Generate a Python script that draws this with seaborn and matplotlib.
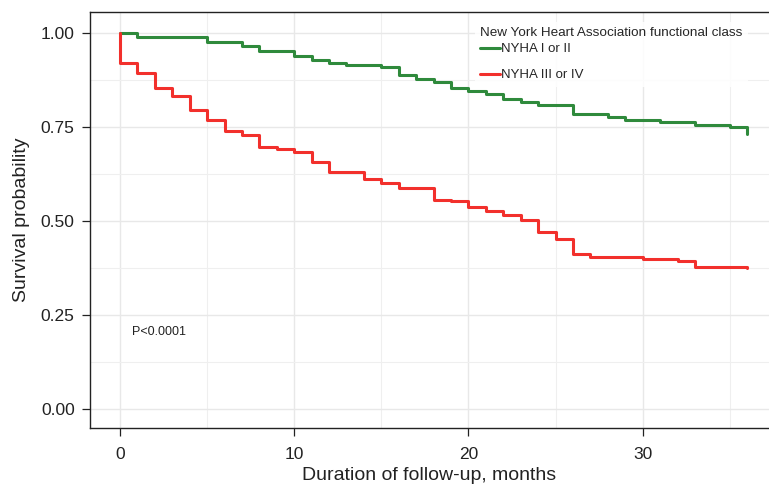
"""Kaplan-Meier curves by NYHA functional class."""

import matplotlib.pyplot as plt
import numpy as np
import pandas as pd
import seaborn as sns

# step times (months) and survival estimates
green_times = [0, 1, 5, 7, 8, 10, 11, 12, 13, 15, 16, 17, 18, 19, 20, 21, 22, 23, 24,
               26, 28, 29, 31, 33, 35, 36]
green_surv = [1.0, 0.989, 0.977, 0.965, 0.952, 0.940, 0.927, 0.921, 0.915, 0.909, 0.888,
              0.877, 0.870, 0.855, 0.846, 0.837, 0.824, 0.816, 0.809, 0.784, 0.776, 0.769,
              0.762, 0.756, 0.750, 0.731]
red_times = [0, 0, 1, 2, 3, 4, 5, 6, 7, 8, 9, 10, 11, 12, 14, 15, 16, 18, 19, 20, 21, 22,
             23, 24, 25, 26, 27, 30, 32, 33, 36]
red_surv = [1.0, 0.921, 0.893, 0.854, 0.832, 0.795, 0.768, 0.739, 0.729, 0.698, 0.691,
            0.684, 0.658, 0.631, 0.612, 0.600, 0.587, 0.556, 0.552, 0.536, 0.527, 0.516,
            0.503, 0.470, 0.451, 0.412, 0.405, 0.399, 0.394, 0.378, 0.376]
groups = ["NYHA I or II", "NYHA III or IV"]
colors = ["#2f8a3c", "#f2302c"]
x_ticks = [0, 10, 20, 30]
y_ticks = [0.0, 0.25, 0.5, 0.75, 1.0]

df = pd.concat([
    pd.DataFrame({"time": green_times, "surv": green_surv, "group": groups[0]}),
    pd.DataFrame({"time": red_times, "surv": red_surv, "group": groups[1]}),
], ignore_index=True)

sns.set_theme(style="whitegrid")
plt.rcParams["font.family"] = ["Liberation Sans", "DejaVu Sans"]

fig = plt.figure(figsize=(7.69, 4.88), dpi=100)
ax = fig.add_axes([90 / 769, 60 / 488, 679 / 769, 416 / 488])

sns.lineplot(data=df, x="time", y="surv", hue="group", palette=colors,
             estimator=None, sort=False, drawstyle="steps-post", linewidth=2.2, ax=ax)

ax.set_xlim(-1.72, 37.25)
ax.set_ylim(-0.051, 1.056)
ax.set_xticks(x_ticks)
ax.set_yticks(y_ticks)
ax.set_yticklabels([f"{v:.2f}" for v in y_ticks])
ax.set_xticks(np.arange(5, 40, 10), minor=True)
ax.set_yticks(np.arange(0.125, 1.0, 0.25), minor=True)
ax.grid(which="major", color="#e8e8e8", linewidth=1.0)
ax.grid(which="minor", color="#efefef", linewidth=0.8)
ax.set_axisbelow(True)

for side in ["left", "bottom", "top"]:
    ax.spines[side].set_color("#222222")
    ax.spines[side].set_linewidth(1.0)
ax.spines["right"].set_visible(False)
ax.tick_params(which="major", length=6, width=0.9, color="#222222", direction="out",
               labelsize=12.5, labelcolor="#222222", bottom=True, left=True)
ax.tick_params(which="minor", length=0)
ax.tick_params(axis="x", pad=8)
ax.tick_params(axis="y", pad=5)

ax.set_xlabel("Duration of follow-up, months", fontsize=14, color="#222222", labelpad=3)
ax.set_ylabel("Survival probability", fontsize=14, color="#222222", labelpad=8)

ax.text(0.69, 0.205, "P<0.0001", fontsize=9, color="#222222", ha="left", va="center")

leg = ax.legend(title="New York Heart Association functional class", loc="upper left",
                bbox_to_anchor=(0.557, 0.993), frameon=True, facecolor="white",
                edgecolor="none", framealpha=0.85, fontsize=9.5, title_fontsize=9.7,
                handlelength=1.5, handletextpad=0.05, labelspacing=1.05,
                alignment="left", borderpad=0.4)
leg._legend_box.sep = 3  # pull the entries up under the title
for line in leg.get_lines():
    line.set_linewidth(2.2)

fig.savefig("out.png", dpi=100)
